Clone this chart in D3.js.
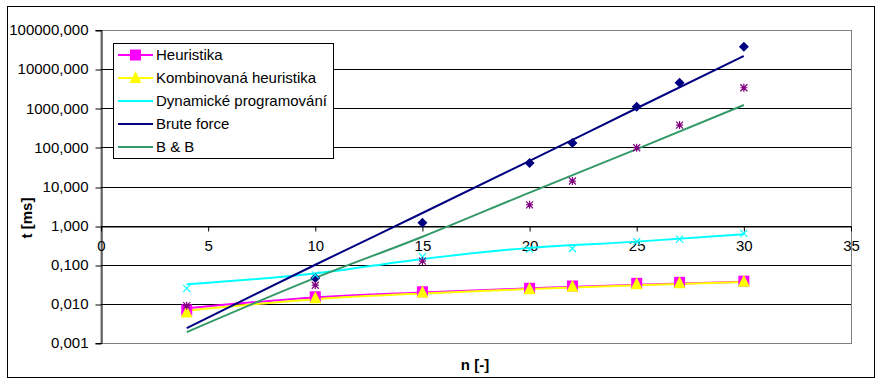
<!DOCTYPE html>
<html><head><meta charset="utf-8">
<script src="https://cdn.jsdelivr.net/npm/d3@7"></script>
<style>body{margin:0;background:#fff}svg{display:block}text{font-family:"Liberation Sans",Arial,sans-serif}</style>
</head><body><svg id="c" width="882" height="385"></svg>
<script>
const nValues = [4, 10, 15, 20, 22, 25, 27, 30];
const heuristika = [0.0070, 0.0152, 0.0204, 0.025, 0.0286, 0.0335, 0.0355, 0.038];
const kombinovana = [0.0060, 0.0140, 0.0194, 0.0236, 0.0275, 0.0316, 0.0335, 0.037];
const dynamicke = [0.025, 0.055, 0.16, 0.25, 0.26, 0.39, 0.45, 0.635];
const bruteForce = [0.007, 0.046, 1.19, 40, 129, 1100, 4500, 37400];
const bAndB = [0.009, 0.030, 0.124, 3.4, 13.8, 98, 372, 3340];
// trendlines
const trendN = [4, 10, 15, 20, 25, 30];
const heurTrend = [0.0077, 0.0145, 0.0195, 0.025, 0.031, 0.037];
const kombTrend = [0.0067, 0.0132, 0.0185, 0.024, 0.030, 0.036];
const dynTrend = [0.0316, 0.060, 0.14, 0.27, 0.39, 0.60];
const bruteTrend = [0.0024, 0.10, 2.1, 45, 1000, 21600];
const bbTrend = [0.0019, 0.046, 0.52, 7.0, 90, 1210];
const yTicks = [0.001, 0.01, 0.1, 1, 10, 100, 1000, 10000, 100000];
const xTicks = [0, 5, 10, 15, 20, 25, 30, 35];
const seriesNames = ["Heuristika", "Kombinovaná heuristika", "Dynamické programování", "Brute force", "B & B"];

const svg = d3.select("#c");
const L = 101, R = 851, T = 30, B = 343;
const x = d3.scaleLinear().domain([0, 35]).range([L, R]);
const y = d3.scaleLog().domain([0.001, 100000]).range([B, T]);

svg.append("rect").attr("x", 7.5).attr("y", 6.5).attr("width", 867).attr("height", 371)
  .attr("fill", "#fff").attr("stroke", "#000").attr("stroke-width", 1);

// plot area border
svg.append("rect").attr("x", L).attr("y", T + 0.5).attr("width", R - L + 0.5).attr("height", B - T)
  .attr("fill", "#fff").attr("stroke", "#808080").attr("stroke-width", 1);

// gridlines
svg.append("g").selectAll("line").data(yTicks.slice(1, -1)).join("line")
  .attr("x1", L).attr("x2", R).attr("y1", d => Math.round(y(d)) + 0.5).attr("y2", d => Math.round(y(d)) + 0.5)
  .attr("stroke", "#000").attr("stroke-width", 1);

// y axis
const fmt = d => d3.format(".3f")(d).replace(".", ",");
const yAxis = svg.append("g").attr("transform", `translate(${L + 0.5},0)`)
  .call(d3.axisLeft(y).tickValues(yTicks).tickFormat(fmt).tickSize(6).tickPadding(7));
yAxis.select(".domain").attr("stroke", "#000");
yAxis.selectAll("text").attr("font-size", 15).attr("fill", "#000");
yAxis.selectAll("line").attr("transform", d => `translate(0,${Math.round(y(d)) + 0.5 - y(d)})`);

// x axis at y = 1
const x0 = Math.round(y(1)) + 0.5;
const xAxis = svg.append("g").attr("transform", `translate(0,${x0})`)
  .call(d3.axisBottom(x).tickValues(xTicks).tickSize(5).tickPadding(9).tickSizeOuter(0));
xAxis.select(".domain").attr("stroke", "#000");
xAxis.selectAll("text").attr("font-size", 15).attr("fill", "#000");

// axis titles
svg.append("text").attr("transform", "translate(32,218) rotate(-90)").attr("text-anchor", "middle")
  .attr("font-size", 15).attr("font-weight", "bold").text("t [ms]");
svg.append("text").attr("x", 475).attr("y", 370).attr("text-anchor", "middle")
  .attr("font-size", 15).attr("font-weight", "bold").text("n [-]");

const line = d3.line().x(d => x(d[0])).y(d => y(d[1])).curve(d3.curveMonotoneX);
const zip = (a, b) => a.map((v, i) => [v, b[i]]);
const colors = { heur: "#FF00FF", komb: "#FFFF00", dyn: "#00FFFF", brute: "#000080", bb: "#339966", star: "#800080" };

const gMarks = svg.append("g");
// markers
function markers(vals, draw) {
  vals.forEach((v, i) => draw(gMarks, x(nValues[i]), y(v)));
}
const sq = (g, cx, cy) => g.append("rect").attr("x", cx - 5.5).attr("y", cy - 5.5).attr("width", 11).attr("height", 11).attr("fill", colors.heur);
const tri = (g, cx, cy) => g.append("path").attr("d", `M${cx},${cy - 7}L${cx + 6},${cy + 5}L${cx - 6},${cy + 5}Z`).attr("fill", colors.komb);
const diam = (g, cx, cy) => g.append("path").attr("d", `M${cx},${cy - 5}L${cx + 5},${cy}L${cx},${cy + 5}L${cx - 5},${cy}Z`).attr("fill", colors.brute);
const cross = (g, cx, cy) => g.append("path").attr("d", `M${cx - 3.5},${cy - 3.5}L${cx + 3.5},${cy + 3.5}M${cx + 3.5},${cy - 3.5}L${cx - 3.5},${cy + 3.5}`).attr("stroke", colors.dyn).attr("stroke-width", 1.2);
const star = (g, cx, cy) => g.append("path").attr("d", `M${cx - 3.5},${cy - 3.5}L${cx + 3.5},${cy + 3.5}M${cx + 3.5},${cy - 3.5}L${cx - 3.5},${cy + 3.5}M${cx},${cy - 4}L${cx},${cy + 4}M${cx - 3.5},${cy}L${cx + 3.5},${cy}`).attr("stroke", colors.star).attr("stroke-width", 1.2);

// trendlines
const gLines = svg.append("g");
[[heurTrend, colors.heur], [kombTrend, colors.komb], [dynTrend, colors.dyn], [bruteTrend, colors.brute], [bbTrend, colors.bb]]
  .forEach(([vals, c]) => gLines.append("path").attr("d", line(zip(trendN, vals))).attr("fill", "none").attr("stroke", c).attr("stroke-width", 2));

markers(bruteForce, diam);
markers(heuristika, sq);
markers(kombinovana, tri);
markers(dynamicke, cross);
markers(bAndB, star);
svg.node().appendChild(gMarks.node());

// legend
const lg = svg.append("g");
lg.append("rect").attr("x", 113.5).attr("y", 43.5).attr("width", 220).attr("height", 115).attr("fill", "#fff").attr("stroke", "#000");
const legColors = [colors.heur, colors.komb, colors.dyn, colors.brute, colors.bb];
seriesNames.forEach((name, i) => {
  const cy = 55 + i * 23;
  lg.append("line").attr("x1", 118).attr("x2", 153).attr("y1", cy).attr("y2", cy).attr("stroke", legColors[i]).attr("stroke-width", 2);
  if (i === 0) sq(lg, 135.5, cy);
  if (i === 1) tri(lg, 135.5, cy);
  lg.append("text").attr("x", 156).attr("y", cy).attr("dy", "0.36em").attr("font-size", 15).text(name);
});
</script></body></html>
